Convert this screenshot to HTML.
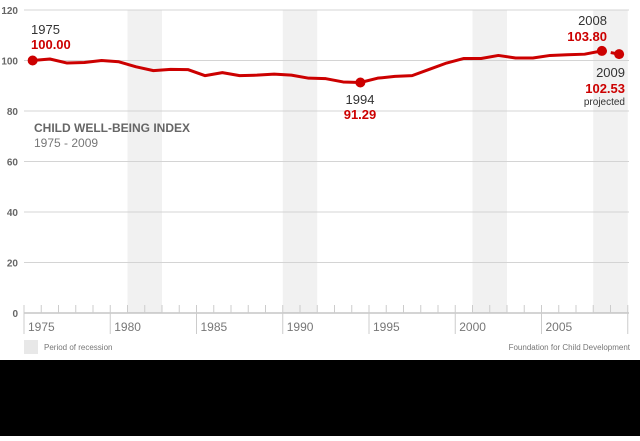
<!DOCTYPE html>
<html><head><meta charset="utf-8"><style>
body{margin:0;width:640px;height:436px;overflow:hidden;background:#fff;font-family:"Liberation Sans",sans-serif}
</style></head><body>
<svg width="640" height="436" id="chart"></svg>
<div style="position:absolute;left:0;top:360px;width:640px;height:76px;background:#000"></div>
<script>
const years=[1975,1976,1977,1978,1979,1980,1981,1982,1983,1984,1985,1986,1987,1988,1989,1990,1991,1992,1993,1994,1995,1996,1997,1998,1999,2000,2001,2002,2003,2004,2005,2006,2007,2008];
const values=[100,100.6,99,99.2,100,99.5,97.5,96,96.5,96.4,94,95.2,94,94.2,94.6,94.2,93,92.8,91.5,91.29,93,93.7,94,96.5,99,100.8,100.8,102,101,101,102,102.3,102.5,103.8];
const projYear=[2008,2009];
const projValues=[103.8,102.53];
const recessions=[[1981,1983],[1990,1992],[2001,2003],[2008,2010]];
const yTicks=[0,20,40,60,80,100,120];
const xTickLabels=[1975,1980,1985,1990,1995,2000,2005];
const NS="http://www.w3.org/2000/svg";
const svg=document.getElementById('chart');
const X=y=>24+(y-1975)*17.25, Y=v=>313-v*2.525;
function el(t,a,p){const e=document.createElementNS(NS,t);for(const k in a)e.setAttribute(k,a[k]);(p||svg).appendChild(e);return e;}
recessions.forEach(r=>{const e=el('rect',{x:X(r[0]),y:10,width:Math.min(X(r[1]),629)-X(r[0]),height:303,fill:'#f1f1f1'});

});
yTicks.forEach(t=>{const l=el('line',{x1:24,x2:629,y1:Y(t),y2:Y(t),stroke:t==0?'#aaa':'#d4d4d4','stroke-width':1});


const tx=el('text',{x:18,y:Y(t)+4,'text-anchor':'end','font-size':10,'font-weight':'bold',fill:'#666'});tx.textContent=t;

});
for(let y=1975;y<=2010;y++){const maj=(y%5==0);const l=el('line',{x1:X(y),x2:X(y),y1:305,y2:maj?334:313,stroke:'#ccc'});

}
xTickLabels.forEach(y=>{const t=el('text',{x:X(y)+4,y:331,'font-size':12,fill:'#777'});t.textContent=y;

});
const pts=years.map((y,i)=>X(y+0.5)+','+Y(values[i])).join(' ');
const pl=el('polyline',{points:pts,fill:'none',stroke:'#cc0000','stroke-width':3,'stroke-linejoin':'round'});


const pp=el('polyline',{points:projYear.map((y,i)=>X(y+0.5)+','+Y(projValues[i])).join(' '),fill:'none',stroke:'#cc0000','stroke-width':3,'stroke-dasharray':'5,4'});


[[1975,values[0]],[1994,values[19]],[2008,values[33]],[2009,projValues[1]]].forEach(d=>{const c=el('circle',{cx:X(d[0]+0.5),cy:Y(d[1]),r:5,fill:'#cc0000'});

});
function txt(x,y,s,size,fill,w,anchor,name){const t=el('text',{x:x,y:y,'font-size':size,fill:fill,'font-weight':w||'normal','text-anchor':anchor||'start'});t.textContent=s;

}
txt(31,34,'1975',13,'#333','normal','start','label-1975-year');
txt(31,49,'100.00',13,'#cc0000','bold','start','label-1975-value');
txt(360,104,'1994',13,'#333','normal','middle','label-1994-year');
txt(360,119,'91.29',13,'#cc0000','bold','middle','label-1994-value');
txt(607,25,'2008',13,'#333','normal','end','label-2008-year');
txt(607,41,'103.80',13,'#cc0000','bold','end','label-2008-value');
txt(625,77,'2009',13,'#333','normal','end','label-2009-year');
txt(625,93,'102.53',13,'#cc0000','bold','end','label-2009-value');
txt(625,105,'projected',10,'#333','normal','end','label-projected');
txt(34,132,'CHILD WELL-BEING INDEX',12,'#666','bold','start','chart-title');
txt(34,147,'1975 - 2009',12,'#777','normal','start','chart-subtitle');
const lg=el('rect',{x:24,y:340,width:14,height:14,fill:'#e8e8e8'});


txt(44,350,'Period of recession',8,'#777','normal','start','legend-label');
txt(630,350,'Foundation for Child Development',8,'#777','normal','end','source-note');
</script>
</body></html>
